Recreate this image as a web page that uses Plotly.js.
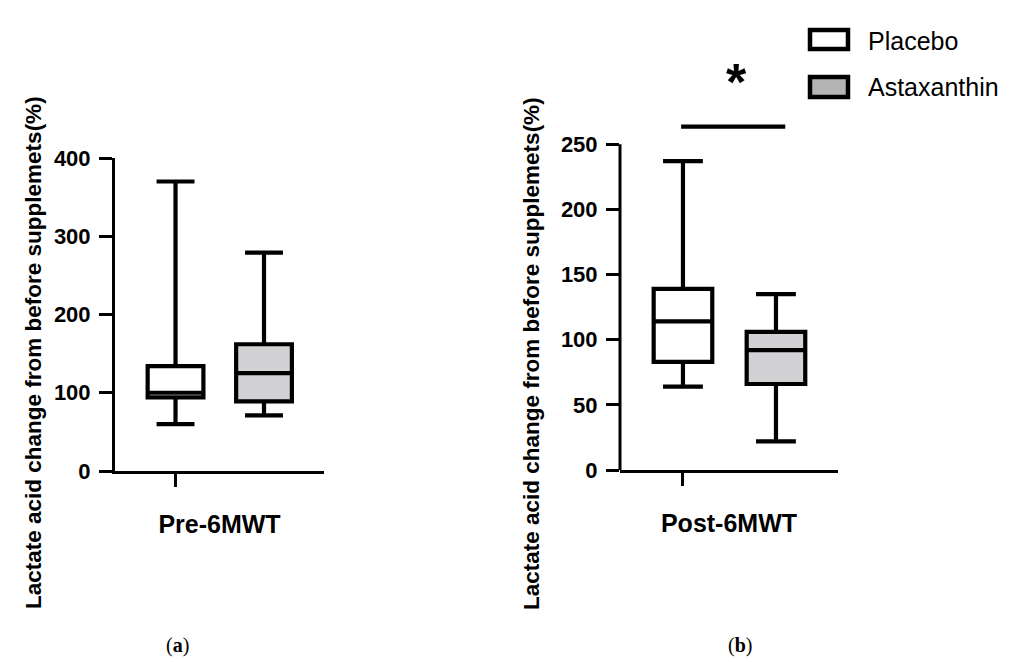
<!DOCTYPE html>
<html>
<head>
<meta charset="utf-8">
<script src="https://cdn.plot.ly/plotly-3.0.1.min.js"></script>
<style>html,body{margin:0;padding:0;background:#fff;}#chart{width:1015px;height:662px;}</style>
</head>
<body>
<div id="chart"></div>
<script>
// ---- data ----
var groups = ['Placebo', 'Astaxanthin'];
var panelLabels = ['Pre-6MWT', 'Post-6MWT'];
var yTitle = 'Lactate acid change from before supplemets(%)';

// Pre-6MWT (a)
var preLower  = [60, 71];
var preQ1     = [94, 89];
var preMedian = [100, 125];
var preQ3     = [134, 162];
var preUpper  = [370, 279];

// Post-6MWT (b)
var postLower  = [64, 22];
var postQ1     = [83, 66];
var postMedian = [114, 92];
var postQ3     = [139, 106];
var postUpper  = [237, 135];

var preTicks  = [0, 100, 200, 300, 400];
var postTicks = [0, 50, 100, 150, 200, 250];
var sigLevel = 263.5;   // significance bar height (b)
var starLevel = 298;    // asterisk height (b)

var fills = ['#ffffff', '#d2d2d5'];
var legendFills = ['#ffffff', '#b4b4b4'];

// ---- traces ----
var traces = [];
function addBoxes(xa, ya, lo, q1, med, q3, up, w) {
  for (var i = 0; i < groups.length; i++) {
    traces.push({
      type: 'box', name: groups[i], x: [groups[i]],
      lowerfence: [lo[i]], q1: [q1[i]], median: [med[i]], q3: [q3[i]], upperfence: [up[i]],
      xaxis: xa, yaxis: ya, width: w, whiskerwidth: 0.68,
      fillcolor: fills[i], line: {color: '#000', width: 4.2},
      boxpoints: false, hoverinfo: 'skip', showlegend: false
    });
  }
}
addBoxes('x', 'y', preLower, preQ1, preMedian, preQ3, preUpper, 0.63);
addBoxes('x2', 'y2', postLower, postQ1, postMedian, postQ3, postUpper, 0.63);

var W = 1015, H = 662;
function px(v) { return v / W; }
function py(v) { return (H - v) / H; }

var sans = 'Liberation Sans, Arial, sans-serif';
var tickFont = {family: sans, size: 22, color: '#000', weight: 'bold'};
var titleFont = {family: sans, size: 22.5, color: '#000', weight: 'bold'};
var xTitleFont = {family: sans, size: 25, color: '#000', weight: 'bold'};

function xAxis(domain, range, label, anchor) {
  return {
    domain: domain, anchor: anchor, type: 'category', categoryorder: 'array', categoryarray: groups,
    range: range, showline: true, linewidth: 3, linecolor: '#000', showgrid: false, zeroline: false,
    ticks: 'outside', ticklen: 13, tickwidth: 3, tickcolor: '#000',
    tickmode: 'array', tickvals: [groups[0]], ticktext: [''],
    title: {text: label, font: xTitleFont, standoff: 28},
    fixedrange: true
  };
}

var layout = {
  width: W, height: H, autosize: false,
  margin: {l: 0, r: 0, t: 0, b: 0, pad: 0},
  paper_bgcolor: '#fff', plot_bgcolor: 'rgba(0,0,0,0)',
  showlegend: false,
  xaxis: xAxis([px(115), px(324)], [-0.684, 1.678], panelLabels[0], 'y'),
  xaxis2: xAxis([px(620), px(838)], [-0.677, 1.667], panelLabels[1], 'y2'),
  yaxis: {
    domain: [py(471), py(158)], anchor: 'x', range: [0, 400],
    showline: true, linewidth: 3, linecolor: '#000', showgrid: false, zeroline: false,
    ticks: 'outside', ticklen: 13, tickwidth: 3, tickcolor: '#000',
    tickmode: 'array', tickvals: preTicks, tickfont: tickFont, ticklabelstandoff: 4,
    fixedrange: true
  },
  yaxis2: {
    domain: [py(470), py(63.5)], anchor: 'x2', range: [0, 312],
    showline: false, showgrid: false, zeroline: false,
    ticks: 'outside', ticklen: 13, tickwidth: 3, tickcolor: '#000',
    tickmode: 'array', tickvals: postTicks, tickfont: tickFont, ticklabelstandoff: 4,
    fixedrange: true
  },
  shapes: [
    // y axis line of panel (b), drawn only up to its last tick
    {type: 'line', xref: 'x2 domain', yref: 'y2', x0: 0, x1: 0, y0: postTicks[0], y1: postTicks[postTicks.length - 1],
     line: {color: '#000', width: 3}},
    // significance bar
    {type: 'line', xref: 'x2', yref: 'y2', x0: -0.02, x1: 1.1, y0: sigLevel, y1: sigLevel,
     line: {color: '#000', width: 4.2}},
    // legend swatches
    {type: 'rect', xref: 'paper', yref: 'paper', x0: px(810), x1: px(848), y0: py(49), y1: py(30),
     fillcolor: legendFills[0], line: {color: '#000', width: 4.5}},
    {type: 'rect', xref: 'paper', yref: 'paper', x0: px(810), x1: px(848), y0: py(97), y1: py(77),
     fillcolor: legendFills[1], line: {color: '#000', width: 4.5}}
  ],
  annotations: [
    // y axis titles
    {xref: 'paper', yref: 'paper', x: px(33), y: py(353), text: yTitle, textangle: -90, showarrow: false,
     xanchor: 'center', yanchor: 'middle', font: titleFont},
    {xref: 'paper', yref: 'paper', x: px(531), y: py(354), text: yTitle, textangle: -90, showarrow: false,
     xanchor: 'center', yanchor: 'middle', font: titleFont},
    {xref: 'x2', yref: 'y2', x: 0.58, y: starLevel, text: '*', showarrow: false,
     font: {family: sans, size: 52, color: '#000', weight: 'bold'},
     xanchor: 'center', yanchor: 'middle'},
    {xref: 'paper', yref: 'paper', x: px(866), y: py(41), text: groups[0], showarrow: false,
     xanchor: 'left', yanchor: 'middle', font: {family: sans, size: 25, color: '#000'}},
    {xref: 'paper', yref: 'paper', x: px(866), y: py(87), text: groups[1], showarrow: false,
     xanchor: 'left', yanchor: 'middle', font: {family: sans, size: 25, color: '#000'}},
    {xref: 'paper', yref: 'paper', x: px(177), y: py(645), text: '(<b>a</b>)', showarrow: false,
     xanchor: 'center', yanchor: 'middle', font: {family: 'Liberation Serif, DejaVu Serif, serif', size: 20, color: '#000'}},
    {xref: 'paper', yref: 'paper', x: px(740), y: py(645), text: '(<b>b</b>)', showarrow: false,
     xanchor: 'center', yanchor: 'middle', font: {family: 'Liberation Serif, DejaVu Serif, serif', size: 20, color: '#000'}}
  ]
};

Plotly.newPlot('chart', traces, layout, {staticPlot: true, displayModeBar: false});
</script>
</body>
</html>
